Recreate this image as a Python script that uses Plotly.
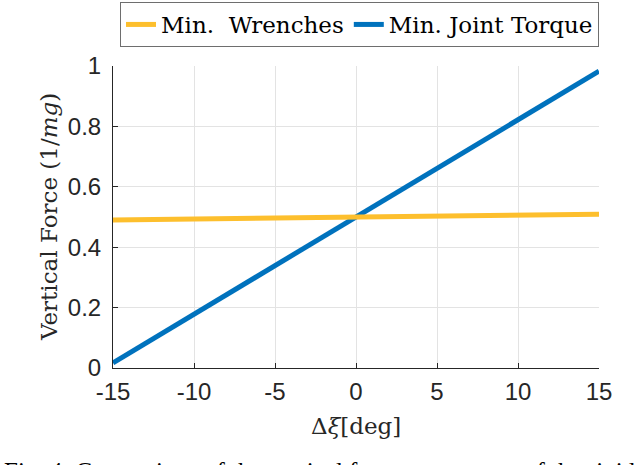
import plotly.graph_objects as go

delta_xi = [-15, 0, 15]
min_wrenches = [0.490, 0.499, 0.509]
min_joint_torque = [0.017, 0.500, 0.983]
x_ticks = [-15, -10, -5, 0, 5, 10, 15]
x_tick_text = ["-15", "-10", "-5", "0", "5", "10", "15"]
y_ticks = [0, 0.2, 0.4, 0.6, 0.8, 1]
y_tick_text = ["0", "0.2", "0.4", "0.6", "0.8", "1"]

BLUE = "#0072BD"
YELLOW = "#FDBF2D"
SERIF = "DejaVu Serif"
SANS = "Liberation Sans"

fig = go.Figure()
fig.add_trace(go.Scatter(x=delta_xi, y=min_joint_torque, mode="lines",
                         name="Min. Joint Torque", line=dict(color=BLUE, width=5),
                         legendrank=2))
fig.add_trace(go.Scatter(x=delta_xi, y=min_wrenches, mode="lines",
                         name="Min.  Wrenches", line=dict(color=YELLOW, width=5),
                         legendrank=1))

axis_common = dict(showline=True, linecolor="#262626", linewidth=1,
                   ticks="inside", ticklen=5, tickcolor="#262626",
                   showgrid=True, gridcolor="#E3E3E3", gridwidth=1,
                   zeroline=False, automargin=False,
                   tickfont=dict(family=SANS, size=24, color="#262626"))

fig.update_xaxes(range=[-15, 15], tickvals=x_ticks, ticktext=x_tick_text,
                 ticklabelstandoff=2, **axis_common)
fig.update_yaxes(range=[0, 1], tickvals=y_ticks, ticktext=y_tick_text,
                 ticklabelstandoff=6, **axis_common)

fig.update_layout(
    width=640, height=465,
    margin=dict(l=113, r=41, t=66, b=97, pad=0, autoexpand=False),
    plot_bgcolor="white", paper_bgcolor="white",
    showlegend=True,
    legend=dict(orientation="h", x=1, xanchor="right", y=1.212, yanchor="top",
                font=dict(family=SERIF, size=23, color="black"),
                bordercolor="#6E6E6E", borderwidth=1, bgcolor="white",
                traceorder="normal", itemwidth=30, tracegroupgap=0),
    annotations=[
        dict(text="Vertical Force (1/<i>mg</i>)", xref="paper", yref="paper",
             x=0, y=0.5, xshift=-64, textangle=-90, showarrow=False,
             font=dict(family=SERIF, size=23, color="#262626"),
             xanchor="center", yanchor="middle"),
        dict(text="Δ<i>ξ</i>[deg]", xref="paper", yref="paper",
             x=0.5, y=0, yshift=-58, showarrow=False,
             font=dict(family=SERIF, size=23, color="#262626"),
             xanchor="center", yanchor="middle"),
        dict(text="Fig. 4: Comparison of the vertical force component of the rigid",
             xref="paper", yref="paper", x=0, y=0, xshift=-111, yshift=-88,
             showarrow=False, xanchor="left", yanchor="top",
             font=dict(family="Liberation Serif", size=25, color="black")),
    ],
)

fig.write_html("out.html", config={"displayModeBar": False},
               post_script="document.body.style.margin='0';")
